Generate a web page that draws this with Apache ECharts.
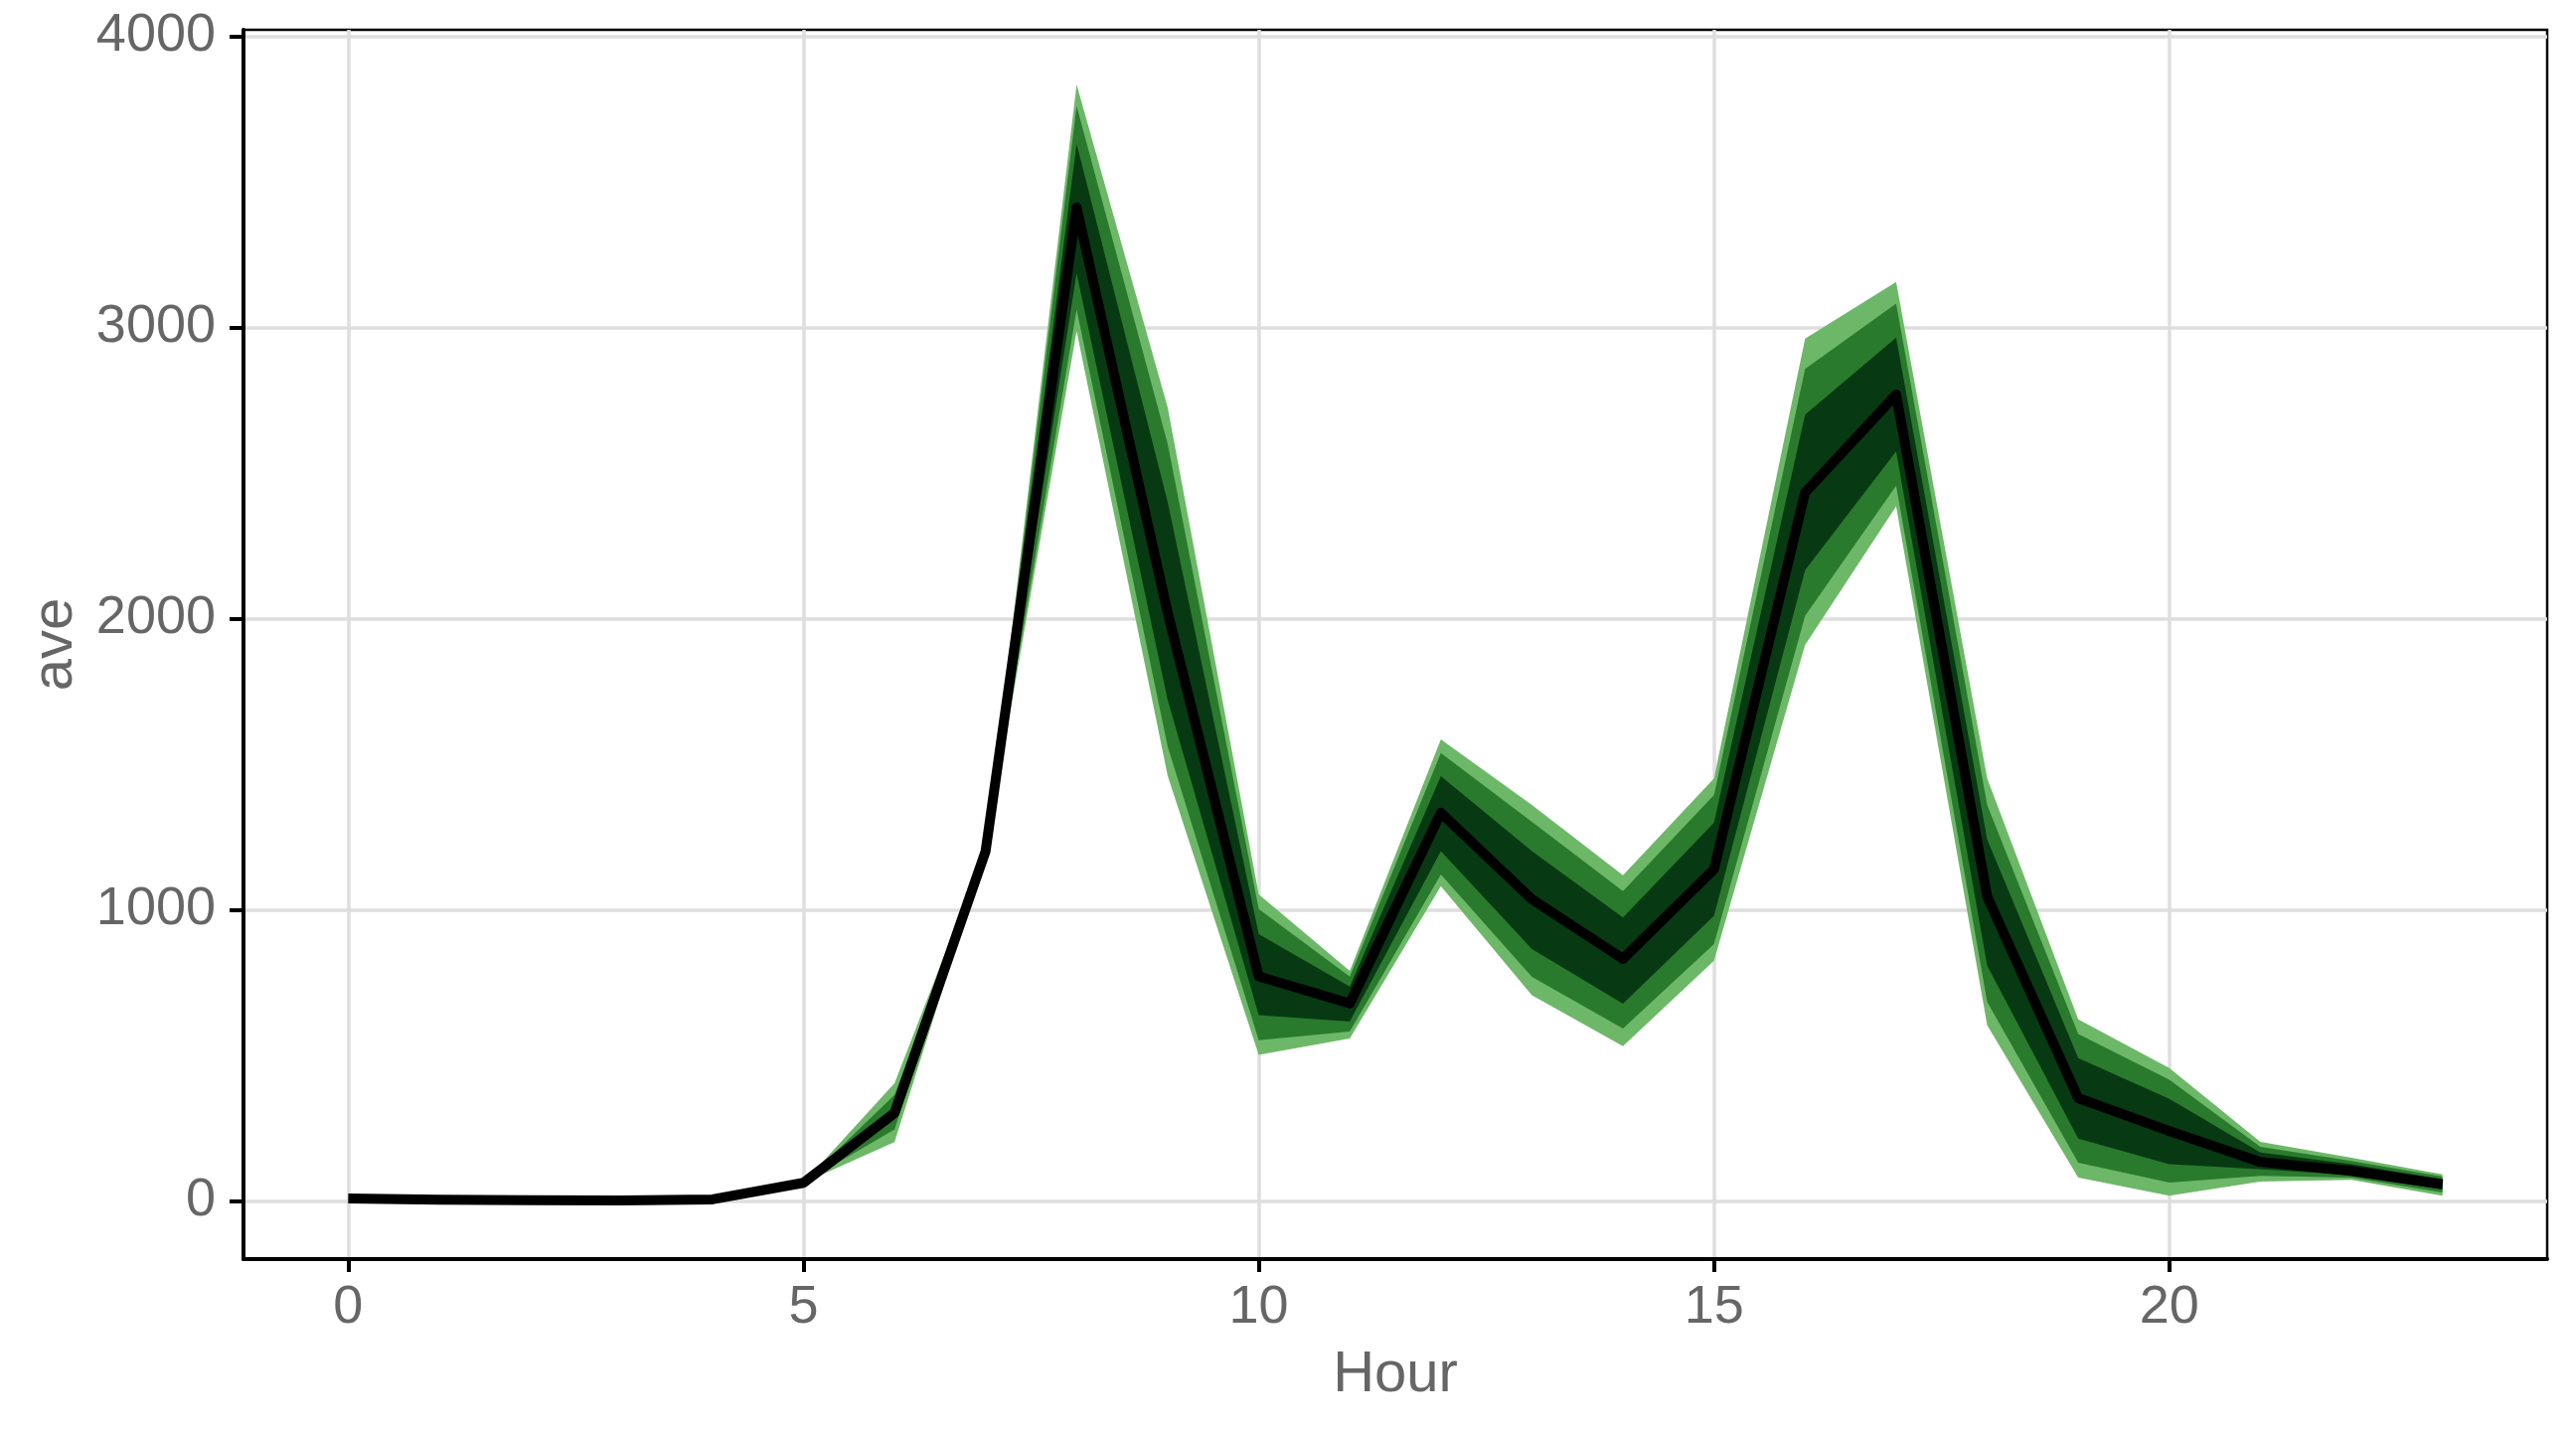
<!DOCTYPE html>
<html>
<head>
<meta charset="utf-8">
<script src="https://cdn.jsdelivr.net/npm/echarts@6/dist/echarts.min.js"></script>
<style>
html,body{margin:0;padding:0;background:#fff;}
#chart{width:2592px;height:1440px;}
</style>
</head>
<body>
<div id="chart"></div>
<script>
// ---- data ----
var hours = [0,1,2,3,4,5,6,7,8,9,10,11,12,13,14,15,16,17,18,19,20,21,22,23];
var median = [8,4,2,1,5,62,302,1201,3412,2020,771,678,1333,1036,831,1139,2433,2769,1045,353,240,134,103,57];
// outer (light) band
var outerUpper = [8,4,2,1,5,62,404,1207,3834,2725,1053,790,1585,1360,1118,1451,2961,3156,1451,623,456,203,148,91];
var outerLower = [8,4,2,1,5,62,202,1195,2987,1460,501,558,1081,706,531,825,1909,2385,603,80,18,66,72,18];
// middle band
var midUpper = [8,4,2,1,5,62,364,1205,3760,2600,1002,770,1538,1302,1064,1394,2857,3082,1360,573,416,186,137,83];
var midLower = [8,4,2,1,5,62,245,1197,3061,1560,552,582,1121,769,592,882,2009,2456,683,131,63,86,80,29];
// inner (dark) band
var innerUpper = [8,4,2,1,5,62,325,1203,3630,2400,916,736,1459,1201,973,1299,2700,2965,1241,490,350,166,126,74];
var innerLower = [8,4,2,1,5,62,279,1199,3186,1720,638,616,1201,865,677,979,2166,2574,808,214,126,109,88,40];
var xTicks = [0,5,10,15,20];
var yTicks = [0,1000,2000,3000,4000];

// ---- styles ----
var textColor = '#666666';
var fontFam = '"Liberation Sans", Arial, Helvetica, sans-serif';
var bandColors = ['#6db868', '#2a7a2e', '#073a12'];

function bandData(lo, up){ return hours.map(function(h,i){ return [h, lo[i], up[i]]; }); }

function band(name, lo, up, color){
  var data = bandData(lo, up);
  return {
    name: name, type:'custom', silent:true, z:2,
    data: data,
    encode:{x:0, y:[1,2]},
    renderItem:function(params, api){
      if (params.dataIndex !== 0) return null;
      var pts = [];
      for (var i=0;i<data.length;i++){ pts.push(api.coord([data[i][0], data[i][2]])); }
      for (var j=data.length-1;j>=0;j--){ pts.push(api.coord([data[j][0], data[j][1]])); }
      return { type:'polygon', shape:{points:pts}, style:{fill:color, stroke:null} };
    }
  };
}

var series = [
  band('outer', outerLower, outerUpper, bandColors[0]),
  band('mid', midLower, midUpper, bandColors[1]),
  band('inner', innerLower, innerUpper, bandColors[2]),
  {
    name:'median', type:'line', data:hours.map(function(h,i){return [h, median[i]];}),
    symbol:'none', silent:true, z:5,
    lineStyle:{color:'#000', width:10, join:'round', cap:'butt'}
  }
];

var chart = echarts.init(document.getElementById('chart'), null, {renderer:'canvas'});
chart.setOption({
  animation:false,
  backgroundColor:'#ffffff',
  grid:{left:245, right:29, top:30, bottom:173, show:true, borderColor:'#000', borderWidth:2.5, backgroundColor:'transparent'},
  xAxis:{
    type:'value', min:-1.15, max:24.15,
    name:'Hour', nameLocation:'middle', nameGap:88,
    nameTextStyle:{color:textColor, fontSize:58, fontFamily:fontFam},
    axisLine:{show:true, onZero:false, lineStyle:{color:'#000', width:4}},
    axisTick:{show:true, customValues:xTicks, length:13, lineStyle:{color:'#000', width:4}},
    axisLabel:{show:true, customValues:xTicks, margin:22, color:textColor, fontSize:54, fontFamily:fontFam,
      formatter:function(v){return String(v);}},
    splitLine:{show:true, lineStyle:{color:'#dedede', width:3.5}}
  },
  yAxis:{
    type:'value', min:-200, max:4022,
    name:'ave', nameLocation:'middle', nameGap:160, nameRotate:90,
    nameTextStyle:{color:textColor, fontSize:58, fontFamily:fontFam},
    axisLine:{show:true, onZero:false, lineStyle:{color:'#000', width:4}},
    axisTick:{show:true, customValues:yTicks, length:14, lineStyle:{color:'#000', width:4}},
    axisLabel:{show:true, customValues:yTicks, margin:28, color:textColor, fontSize:54, fontFamily:fontFam,
      formatter:function(v){return String(v);}},
    splitLine:{show:true, lineStyle:{color:'#dedede', width:3.5}}
  },
  series:series
});
</script>
</body>
</html>
